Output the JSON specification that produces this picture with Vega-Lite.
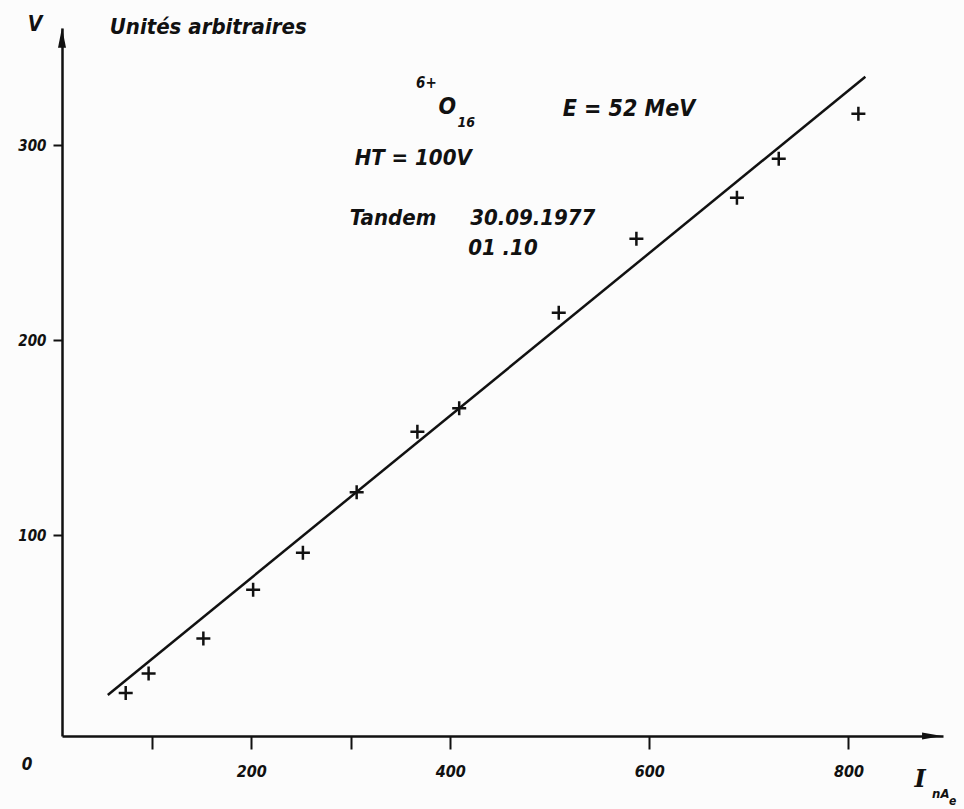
{
  "$schema": "https://vega.github.io/schema/vega-lite/v6.json",
  "autosize": {"type": "none"},
  "padding": {"left": 62, "top": 28, "right": 21, "bottom": 73},
  "width": 881,
  "height": 708,
  "background": "#fcfcfc",
  "config": {
    "view": {"stroke": null},
    "axis": {
      "domainColor": "#111",
      "domainWidth": 2.5,
      "tickColor": "#111",
      "tickWidth": 2,
      "grid": false,
      "labelFont": "DejaVu Sans Condensed, DejaVu Sans",
      "labelFontStyle": "italic",
      "labelFontWeight": "bold",
      "labelColor": "#111",
      "title": null
    },
    "text": {"font": "DejaVu Sans Condensed, DejaVu Sans", "fontStyle": "italic", "fontWeight": "bold", "color": "#111"}
  },
  "datasets": {
    "points": [
      {"current": 74, "signal": 19},
      {"current": 97, "signal": 29},
      {"current": 152, "signal": 47},
      {"current": 202, "signal": 72},
      {"current": 252, "signal": 91},
      {"current": 306, "signal": 122},
      {"current": 367, "signal": 153},
      {"current": 409, "signal": 165},
      {"current": 509, "signal": 214},
      {"current": 587, "signal": 252},
      {"current": 688, "signal": 273},
      {"current": 730, "signal": 293},
      {"current": 810, "signal": 316}
    ],
    "fit": [
      {"current": 56, "signal": 18},
      {"current": 817, "signal": 335}
    ]
  },
  "layer": [
    {
      "data": {"name": "fit"},
      "mark": {"type": "line", "color": "#111", "strokeWidth": 2.5},
      "encoding": {
        "x": {"field": "current", "type": "quantitative",
              "scale": {"domain": [10, 895], "nice": false, "zero": false},
              "axis": {"values": [100, 200, 300, 400, 600, 800], "tickSize": 13, "labelPadding": 14, "labelFontSize": 16,
                       "labelExpr": "datum.value == 100 || datum.value == 300 ? '' : datum.label"}},
        "y": {"field": "signal", "type": "quantitative",
              "scale": {"domain": [-3, 360], "nice": false, "zero": false},
              "axis": {"values": [100, 200, 300], "tickSize": 9, "labelPadding": 7, "labelFontSize": 15}}
      }
    },
    {
      "data": {"name": "points"},
      "mark": {"type": "point", "shape": "M -1 0 L 1 0 M 0 -1 L 0 1", "size": 196, "filled": false, "stroke": "#111", "strokeWidth": 2.5, "opacity": 1},
      "encoding": {
        "x": {"field": "current", "type": "quantitative"},
        "y": {"field": "signal", "type": "quantitative"}
      }
    },
    {
      "data": {"values": [{}]},
      "mark": {"type": "point", "shape": "M 0 -1 L 0.4 1 L -0.4 1 Z", "size": 400, "filled": true, "color": "#111", "opacity": 1},
      "encoding": {"x": {"datum": 10}, "y": {"datum": 355}}
    },
    {
      "data": {"values": [{}]},
      "mark": {"type": "point", "shape": "M 1 0 L -1 -0.35 L -1 0.35 Z", "size": 400, "filled": true, "color": "#111", "opacity": 1},
      "encoding": {"x": {"datum": 884}, "y": {"datum": -3}}
    },
    {
      "data": {"values": [{}]},
      "mark": {"type": "text", "text": "V", "fontSize": 21, "align": "center", "baseline": "middle"},
      "encoding": {"x": {"datum": -17}, "y": {"datum": 361.5}}
    },
    {
      "data": {"values": [{}]},
      "mark": {"type": "text", "text": "Unités arbitraires", "fontSize": 22, "align": "left", "baseline": "middle"},
      "encoding": {"x": {"datum": 58}, "y": {"datum": 360.5}}
    },
    {
      "data": {"values": [{}]},
      "mark": {"type": "text", "text": "0", "fontSize": 17, "align": "center", "baseline": "middle"},
      "encoding": {"x": {"datum": -25}, "y": {"datum": -18}}
    },
    {
      "data": {"values": [{}]},
      "mark": {"type": "text", "text": "6+", "fontSize": 15, "align": "center", "baseline": "middle"},
      "encoding": {"x": {"datum": 376}, "y": {"datum": 332}}
    },
    {
      "data": {"values": [{}]},
      "mark": {"type": "text", "text": "O", "fontSize": 23, "align": "center", "baseline": "middle"},
      "encoding": {"x": {"datum": 397}, "y": {"datum": 319.5}}
    },
    {
      "data": {"values": [{}]},
      "mark": {"type": "text", "text": "16", "fontSize": 14, "align": "center", "baseline": "middle"},
      "encoding": {"x": {"datum": 416}, "y": {"datum": 311.5}}
    },
    {
      "data": {"values": [{}]},
      "mark": {"type": "text", "text": "E = 52 MeV", "fontSize": 23, "align": "left", "baseline": "middle"},
      "encoding": {"x": {"datum": 513}, "y": {"datum": 318.5}}
    },
    {
      "data": {"values": [{}]},
      "mark": {"type": "text", "text": "HT = 100V", "fontSize": 22, "align": "left", "baseline": "middle"},
      "encoding": {"x": {"datum": 304}, "y": {"datum": 293.3}}
    },
    {
      "data": {"values": [{}]},
      "mark": {"type": "text", "text": "Tandem", "fontSize": 22, "align": "left", "baseline": "middle"},
      "encoding": {"x": {"datum": 299}, "y": {"datum": 262.6}}
    },
    {
      "data": {"values": [{}]},
      "mark": {"type": "text", "text": "30.09.1977", "fontSize": 22, "align": "left", "baseline": "middle"},
      "encoding": {"x": {"datum": 420}, "y": {"datum": 262.6}}
    },
    {
      "data": {"values": [{}]},
      "mark": {"type": "text", "text": "01 .10", "fontSize": 22, "align": "left", "baseline": "middle"},
      "encoding": {"x": {"datum": 418}, "y": {"datum": 247.2}}
    },
    {
      "data": {"values": [{}]},
      "mark": {"type": "text", "text": "I", "fontSize": 24, "font": "DejaVu Serif", "align": "center", "baseline": "middle"},
      "encoding": {"x": {"datum": 872}, "y": {"datum": -25.6}}
    },
    {
      "data": {"values": [{}]},
      "mark": {"type": "text", "text": "nA", "fontSize": 13, "align": "left", "baseline": "middle"},
      "encoding": {"x": {"datum": 884}, "y": {"datum": -32.5}}
    },
    {
      "data": {"values": [{}]},
      "mark": {"type": "text", "text": "e", "fontSize": 12, "align": "left", "baseline": "middle"},
      "encoding": {"x": {"datum": 901}, "y": {"datum": -36.5}}
    }
  ]
}
